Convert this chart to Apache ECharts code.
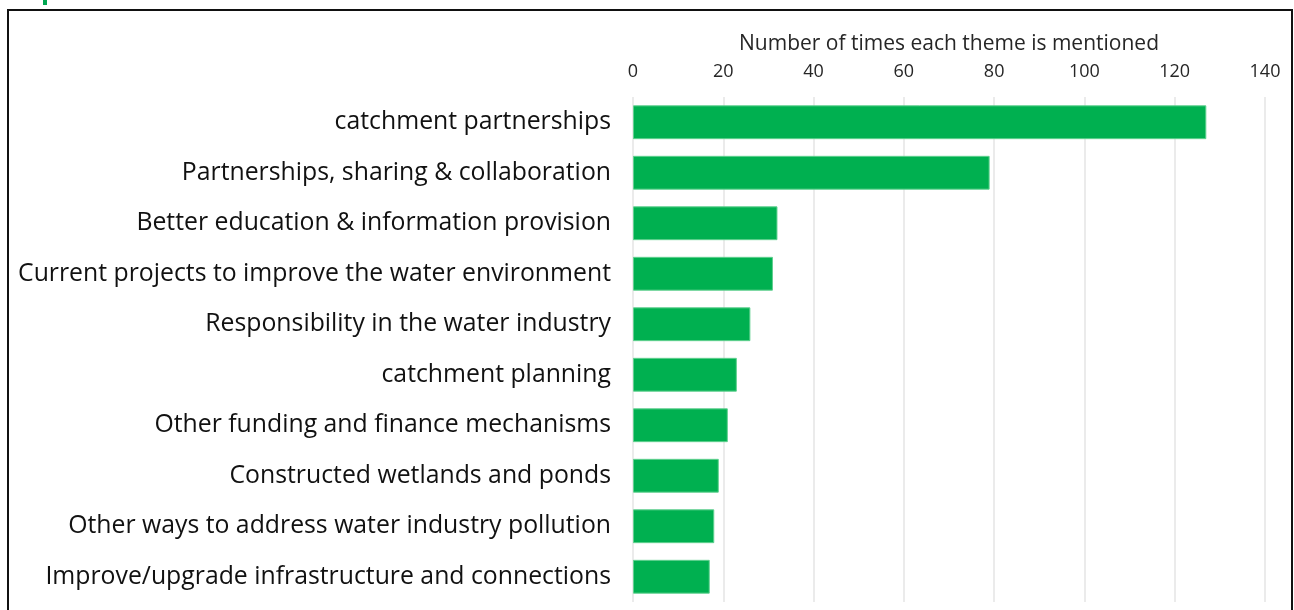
<!DOCTYPE html>
<html>
<head>
<meta charset="utf-8">
<script src="https://cdn.jsdelivr.net/npm/echarts@6/dist/echarts.min.js"></script>
<style>
  html, body { margin: 0; padding: 0; background: #fff; }
  #chart { width: 1294px; height: 610px; }
</style>
</head>
<body>
<div id="chart"></div>
<script>
// Themes, listed top to bottom
const themes = [
  'catchment partnerships',
  'Partnerships, sharing & collaboration',
  'Better education & information provision',
  'Current projects to improve the water environment',
  'Responsibility in the water industry',
  'catchment planning',
  'Other funding and finance mechanisms',
  'Constructed wetlands and ponds',
  'Other ways to address water industry pollution',
  'Improve/upgrade infrastructure and connections'
];
// Number of mentions per theme
const mentions = [127, 79, 32, 31, 26, 23, 21, 19, 18, 17];
const axisTitle = 'Number of times each theme is mentioned';

const chart = echarts.init(document.getElementById('chart'), null, { renderer: 'canvas' });
const font = '"Open Sans", "Noto Sans", sans-serif';

chart.setOption({
  animation: false,
  graphic: [
    { type: 'rect', shape: { x: 8, y: 10, width: 1284, height: 620 },
      style: { fill: 'none', stroke: '#111', lineWidth: 2 } },
    { type: 'rect', shape: { x: 43, y: 0, width: 4, height: 5 },
      style: { fill: '#00a650' } }
  ],
  grid: { left: 633, right: 29, top: 97, bottom: 8, containLabel: false },
  xAxis: {
    type: 'value',
    position: 'top',
    min: 0, max: 140, interval: 20,
    name: axisTitle,
    nameLocation: 'middle',
    nameGap: 42,
    nameTextStyle: { fontFamily: font, fontSize: 21, color: '#262626' },
    axisLine: { show: false },
    axisTick: { show: false },
    axisLabel: { fontFamily: font, fontSize: 18, color: '#262626', margin: 16 },
    splitLine: { show: true, lineStyle: { color: '#e4e4e4', width: 1.5 } }
  },
  yAxis: {
    type: 'category',
    inverse: true,
    data: themes,
    axisLine: { show: false },
    axisTick: { show: false },
    axisLabel: { fontFamily: font, fontSize: 24.8, color: '#111', margin: 22, padding: [4, 0, 0, 0] }
  },
  series: [{
    type: 'bar',
    data: mentions,
    barCategoryGap: '33%',
    itemStyle: { color: '#00b050', borderColor: '#5fd08f', borderWidth: 1 }
  }]
});
</script>
</body>
</html>
